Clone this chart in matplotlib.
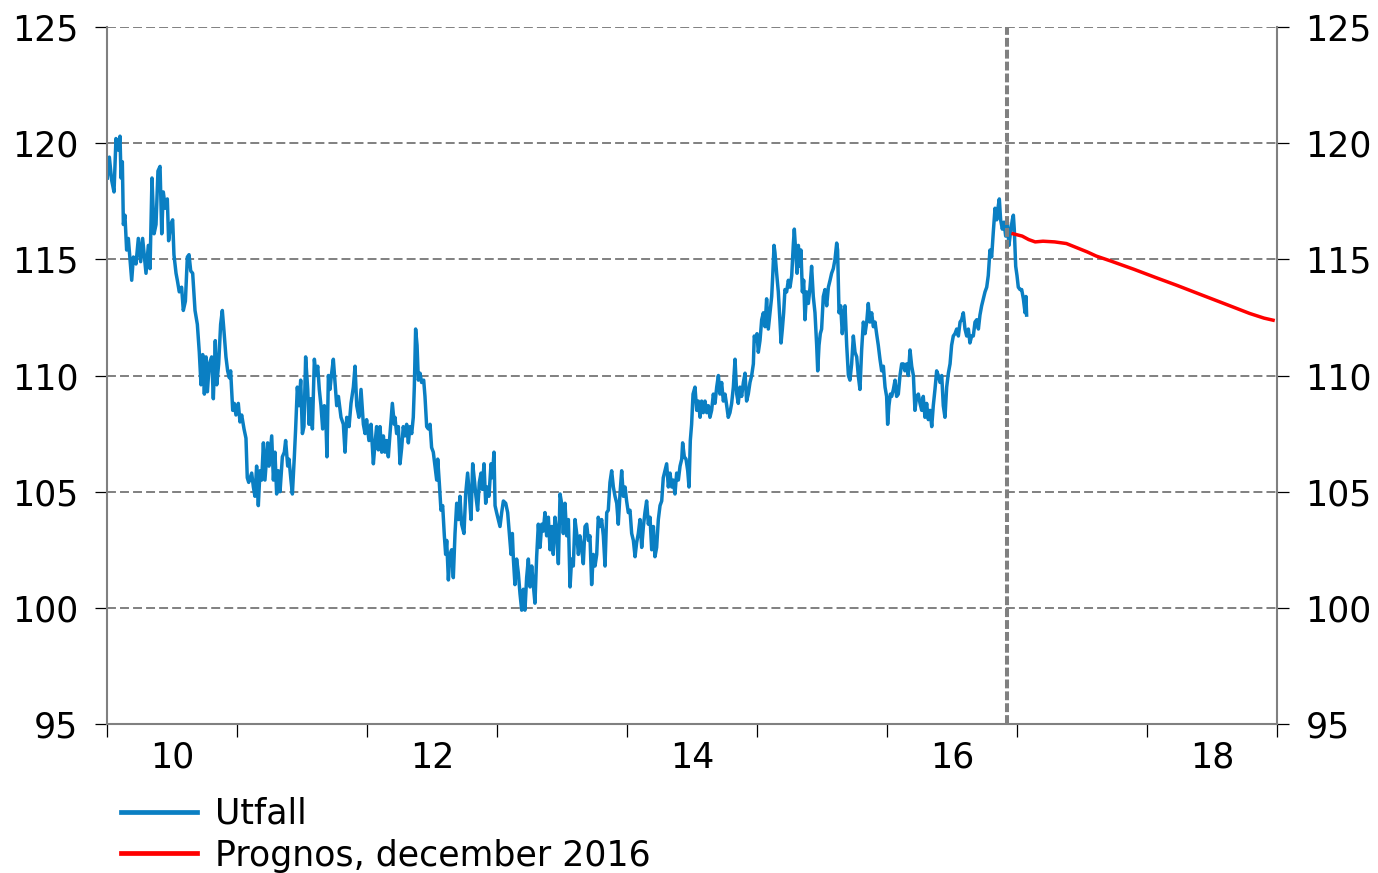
import numpy as np
import matplotlib.pyplot as plt

# -----------------------------
# DATA
# -----------------------------
utfall_year = [
    2010.003, 2010.018, 2010.036, 2010.054, 2010.069, 2010.087, 2010.100, 2010.108, 2010.118, 2010.126,
    2010.138, 2010.151, 2010.164, 2010.190, 2010.203, 2010.223, 2010.241, 2010.259, 2010.274, 2010.300,
    2010.318, 2010.331, 2010.346, 2010.362, 2010.377, 2010.392, 2010.408, 2010.421, 2010.433, 2010.449,
    2010.464, 2010.474, 2010.490, 2010.505, 2010.515, 2010.531, 2010.541, 2010.556, 2010.574, 2010.587,
    2010.603, 2010.618, 2010.631, 2010.644, 2010.659, 2010.677, 2010.695, 2010.710, 2010.723, 2010.736,
    2010.749, 2010.762, 2010.772, 2010.787, 2010.805, 2010.818, 2010.833, 2010.844, 2010.859, 2010.874,
    2010.887, 2010.900, 2010.915, 2010.928, 2010.941, 2010.951, 2010.967, 2010.979, 2010.992, 2011.010,
    2011.023, 2011.036, 2011.054, 2011.069, 2011.079, 2011.090,
    2011.113, 2011.126, 2011.138, 2011.151, 2011.164, 2011.177, 2011.190, 2011.203, 2011.215, 2011.236,
    2011.246, 2011.267, 2011.280, 2011.292, 2011.305, 2011.318, 2011.331, 2011.349, 2011.364, 2011.374,
    2011.390, 2011.400, 2011.415, 2011.426, 2011.441, 2011.451, 2011.464, 2011.477, 2011.490, 2011.503,
    2011.515, 2011.528, 2011.544, 2011.554, 2011.567, 2011.580, 2011.595, 2011.608, 2011.621, 2011.633,
    2011.646, 2011.659, 2011.672, 2011.685, 2011.692, 2011.703, 2011.715, 2011.728, 2011.741, 2011.754,
    2011.767, 2011.780, 2011.800, 2011.818, 2011.831, 2011.844, 2011.862, 2011.877, 2011.895, 2011.908,
    2011.921, 2011.938, 2011.954, 2011.972, 2011.985, 2011.997, 2012.015, 2012.031, 2012.049, 2012.062,
    2012.074, 2012.087, 2012.100, 2012.113, 2012.126, 2012.138, 2012.151, 2012.164, 2012.177, 2012.195,
    2012.210,
    2012.215, 2012.228, 2012.241, 2012.254, 2012.267, 2012.279, 2012.292, 2012.305, 2012.318, 2012.331,
    2012.344, 2012.356, 2012.364, 2012.374, 2012.385, 2012.395, 2012.408, 2012.420, 2012.436, 2012.446,
    2012.459, 2012.472, 2012.485, 2012.497, 2012.510, 2012.523, 2012.536, 2012.544, 2012.556, 2012.569,
    2012.582, 2012.595, 2012.605, 2012.613, 2012.626, 2012.638, 2012.651, 2012.664, 2012.677, 2012.690,
    2012.703, 2012.715, 2012.728, 2012.746, 2012.759, 2012.774, 2012.787, 2012.800, 2012.813, 2012.826,
    2012.838, 2012.851, 2012.864, 2012.877, 2012.887, 2012.900, 2012.913, 2012.926, 2012.938, 2012.954,
    2012.964, 2012.977, 2012.985, 2012.997, 2013.010, 2013.023, 2013.036, 2013.049, 2013.067, 2013.082,
    2013.095, 2013.108, 2013.118, 2013.126, 2013.138, 2013.151, 2013.164, 2013.177, 2013.190, 2013.203,
    2013.215, 2013.228, 2013.241, 2013.254, 2013.267, 2013.279, 2013.292, 2013.305, 2013.318, 2013.331,
    2013.344, 2013.356,
    2013.369, 2013.382, 2013.395, 2013.408, 2013.421, 2013.433, 2013.446, 2013.459, 2013.472, 2013.485,
    2013.497, 2013.510, 2013.523, 2013.536, 2013.549, 2013.562, 2013.574, 2013.587, 2013.600, 2013.613,
    2013.626, 2013.638, 2013.651, 2013.664, 2013.677, 2013.690, 2013.703, 2013.715, 2013.728, 2013.741,
    2013.754, 2013.767, 2013.779, 2013.792, 2013.805, 2013.818, 2013.831, 2013.844, 2013.856, 2013.869,
    2013.882, 2013.895, 2013.908, 2013.921, 2013.933, 2013.946, 2013.959, 2013.972, 2013.985, 2013.997,
    2014.010, 2014.023, 2014.036, 2014.049, 2014.062, 2014.074, 2014.087, 2014.100, 2014.113, 2014.126,
    2014.138, 2014.151, 2014.164, 2014.177, 2014.190, 2014.203, 2014.215, 2014.228, 2014.241, 2014.254,
    2014.267, 2014.279, 2014.292, 2014.305, 2014.318, 2014.331, 2014.344, 2014.356, 2014.369, 2014.382,
    2014.395, 2014.408, 2014.421, 2014.428, 2014.441, 2014.454, 2014.467, 2014.477, 2014.487, 2014.497,
    2014.508, 2014.518,
    2014.523, 2014.536, 2014.549, 2014.562, 2014.574, 2014.587, 2014.600, 2014.613, 2014.626, 2014.638,
    2014.651, 2014.664, 2014.677, 2014.690, 2014.703, 2014.715, 2014.728, 2014.741, 2014.754, 2014.767,
    2014.779, 2014.792, 2014.805, 2014.818, 2014.831, 2014.844, 2014.856, 2014.869, 2014.882, 2014.895,
    2014.908, 2014.920, 2014.933, 2014.946, 2014.959, 2014.972, 2014.979, 2014.990, 2015.000, 2015.010,
    2015.023, 2015.036, 2015.049, 2015.062, 2015.074, 2015.087, 2015.100, 2015.113, 2015.121, 2015.131,
    2015.138, 2015.151, 2015.164, 2015.177, 2015.185, 2015.195, 2015.205, 2015.215, 2015.228, 2015.241,
    2015.254, 2015.267, 2015.279, 2015.287, 2015.297, 2015.308, 2015.318, 2015.331, 2015.338, 2015.349,
    2015.359, 2015.369, 2015.382, 2015.395, 2015.408, 2015.420, 2015.433, 2015.446, 2015.459, 2015.467,
    2015.477, 2015.487, 2015.497, 2015.510, 2015.523, 2015.536, 2015.549, 2015.562, 2015.574, 2015.587,
    2015.600, 2015.613, 2015.620, 2015.631, 2015.644, 2015.656, 2015.669,
    2015.677, 2015.690, 2015.703, 2015.715, 2015.728, 2015.741, 2015.754, 2015.767, 2015.779, 2015.792,
    2015.805, 2015.818, 2015.831, 2015.844, 2015.856, 2015.869, 2015.882, 2015.895, 2015.908, 2015.920,
    2015.933, 2015.946, 2015.959, 2015.972, 2015.985, 2015.997, 2016.005, 2016.015, 2016.026, 2016.036,
    2016.049, 2016.062, 2016.074, 2016.087, 2016.100, 2016.113, 2016.126, 2016.138, 2016.151, 2016.164,
    2016.177, 2016.190, 2016.203, 2016.215, 2016.228, 2016.241, 2016.254, 2016.267, 2016.279, 2016.292,
    2016.305, 2016.318, 2016.331, 2016.344, 2016.356, 2016.369, 2016.382, 2016.395, 2016.408, 2016.421,
    2016.433, 2016.446, 2016.459, 2016.472, 2016.485, 2016.497, 2016.510, 2016.523, 2016.536, 2016.549,
    2016.562, 2016.574, 2016.587, 2016.600, 2016.613, 2016.626, 2016.638, 2016.651, 2016.664, 2016.677,
    2016.690, 2016.703, 2016.715, 2016.728, 2016.741, 2016.754, 2016.767, 2016.779, 2016.792, 2016.805,
    2016.818, 2016.831, 2016.844, 2016.856, 2016.864, 2016.874, 2016.887, 2016.900, 2016.913, 2016.926,
    2016.938, 2016.951, 2016.964, 2016.972, 2016.979, 2016.990, 2017.000, 2017.010, 2017.023, 2017.036,
    2017.049, 2017.062, 2017.069, 2017.074,
]
utfall_value = [
    118.5, 119.4, 118.4, 117.9, 120.2, 119.7, 120.3, 118.5, 119.2, 116.5,
    116.9, 115.4, 115.9, 114.1, 115.1, 114.8, 115.9, 114.9, 115.9, 114.4,
    115.6, 114.6, 118.5, 116.1, 116.5, 118.8, 119.0, 116.1, 117.9, 117.2,
    117.6, 115.8, 116.5, 116.7, 115.2, 114.4, 114.1, 113.6, 113.8, 112.8,
    113.2, 115.1, 115.2, 114.5, 114.4, 112.8, 112.2, 111.0, 109.6, 110.9,
    109.2, 110.8, 109.3, 110.5, 110.8, 109.0, 111.5, 109.6, 110.5, 112.2,
    112.8, 111.9, 110.8, 110.2, 109.9, 110.2, 108.5, 108.8, 108.3, 108.8,
    108.0, 108.3, 107.7, 107.3, 105.6, 105.4,
    105.8, 105.2, 104.8, 106.1, 104.4, 105.9, 105.5, 107.1, 105.5, 107.1,
    106.1, 107.4, 105.5, 106.7, 104.9, 105.9, 105.0, 106.5, 106.7, 107.2,
    106.1, 106.4, 105.5, 104.9, 106.5, 107.7, 109.5, 108.7, 109.8, 107.5,
    107.8, 110.8, 109.4, 107.9, 109.0, 107.7, 110.7, 110.0, 110.4, 109.4,
    108.7, 107.7, 108.7, 107.8, 106.5, 110.0, 109.4, 110.1, 110.7, 109.7,
    108.7, 109.1, 108.2, 107.9, 106.7, 108.2, 107.8, 108.8, 109.5, 110.4,
    108.7, 108.2, 109.4, 107.9, 107.5, 108.1, 107.2, 107.9, 106.2, 107.1,
    107.8, 106.8, 107.8, 106.7, 107.4, 106.7, 107.2, 106.5, 107.5, 108.8,
    107.9,
    108.2, 107.5, 107.8, 106.2, 106.9, 107.8, 107.4, 107.9, 107.1, 107.8,
    107.5, 108.2, 109.5, 112.0, 111.3, 109.8, 110.1, 109.7, 109.8, 109.1,
    107.8, 107.7, 107.9, 106.9, 106.7, 106.1, 105.5, 106.4, 105.4, 104.2,
    104.4, 103.1, 102.3, 102.9, 101.2, 102.3, 102.5, 101.3, 103.2, 104.5,
    103.8, 104.8, 103.6, 103.2, 104.9, 105.8, 104.9, 103.8, 106.2, 105.5,
    104.8, 104.2, 105.4, 105.8, 105.1, 106.2, 104.5, 105.2, 104.8, 106.2,
    105.6, 106.7, 104.4, 104.1, 103.8, 103.5, 104.1, 104.6, 104.5, 104.1,
    103.2, 102.3, 103.2, 102.1, 101.0, 102.1, 101.5, 100.6, 99.9, 100.8,
    99.9, 101.3, 102.1, 100.9, 101.8, 101.0, 100.2, 102.2, 103.6, 102.6,
    103.6, 103.3,
    104.1, 103.1, 103.9, 102.5, 103.5, 102.3, 103.9, 103.3, 101.9, 104.9,
    104.5, 103.2, 104.5, 103.1, 103.8, 100.9, 102.1, 101.8, 103.8, 103.2,
    102.3, 103.1, 102.6, 101.9, 103.5, 103.6, 102.9, 103.1, 101.0, 102.3,
    101.8, 102.3, 103.9, 103.5, 103.8, 103.1, 101.8, 104.1, 104.2, 105.4,
    105.9, 105.2, 104.8, 104.5, 103.6, 104.9, 105.9, 104.8, 105.2, 104.6,
    104.1, 104.2, 103.2, 102.9, 102.2, 102.8, 103.2, 103.8, 102.6, 103.5,
    104.1, 104.6, 103.6, 103.9, 102.5, 103.5, 102.2, 102.6, 103.8, 104.4,
    104.6, 105.6, 105.9, 106.2, 105.2, 105.8, 105.2, 105.5, 104.9, 105.8,
    105.5, 106.1, 106.4, 107.1, 106.5, 106.4, 105.9, 105.2, 107.2, 107.9,
    109.2, 109.4,
    109.5, 108.5, 108.9, 108.2, 108.9, 108.4, 108.9, 108.4, 108.7, 108.2,
    108.5, 109.2, 108.8, 109.5, 110.0, 109.2, 109.7, 108.9, 109.2, 108.7,
    108.2, 108.4, 108.8, 109.5, 110.7, 109.2, 108.8, 109.5, 109.1, 109.7,
    110.1, 108.9, 109.2, 109.7, 110.0, 110.5, 111.7, 111.5, 111.8, 111.0,
    111.5, 112.4, 112.7, 112.1, 113.3, 112.0, 112.7, 113.4, 114.3, 115.6,
    115.3, 114.4, 113.6, 112.3, 111.4, 112.0, 112.7, 113.7, 113.6, 114.1,
    113.8, 114.3, 115.6, 116.3, 115.4, 114.4, 115.6, 114.7, 115.4, 113.6,
    114.1, 112.4, 113.6, 113.1, 113.8, 114.7, 113.4, 112.7, 111.3, 110.2,
    111.3, 111.8, 112.0, 113.4, 113.7, 113.0, 113.8, 114.1, 114.4, 114.6,
    115.0, 115.7, 115.4, 112.7, 113.0, 111.8, 112.7,
    113.0, 111.3, 110.0, 109.8, 110.5, 111.7, 111.0, 110.8, 110.0, 109.4,
    111.1, 112.3, 111.8, 112.3, 113.1, 112.3, 112.7, 112.1, 112.3, 111.8,
    111.3, 110.7, 110.2, 110.4, 109.5, 109.1, 107.9, 108.7, 109.2, 109.1,
    109.4, 109.8, 109.1, 109.2, 110.0, 110.5, 110.5, 110.2, 110.5, 110.0,
    111.1, 110.4, 110.0, 108.5, 109.1, 109.2, 108.8, 108.5, 109.1, 108.2,
    108.8, 108.1, 108.5, 107.8, 108.7, 109.4, 110.2, 110.0, 109.7, 110.0,
    108.7, 108.2, 109.5, 110.1, 110.5, 111.3, 111.7, 111.8, 112.0, 111.7,
    112.3, 112.4, 112.7, 112.0, 111.7, 112.0, 111.4, 111.7, 111.7, 112.3,
    112.4, 112.0, 112.6, 113.0, 113.3, 113.6, 113.8, 114.3, 115.4, 115.1,
    116.2, 117.2, 116.7, 117.3, 117.6, 116.7, 116.3, 116.6, 116.0, 116.6,
    115.6, 116.2, 116.7, 116.9, 116.3, 114.7, 114.3, 113.8, 113.7, 113.7,
    113.3, 112.7, 113.4, 112.6,
]

prognos_year = [2016.97, 2017.04, 2017.09, 2017.14, 2017.20, 2017.29, 2017.38, 2017.46, 2017.54, 2017.61,
                2017.72, 2017.90, 2018.07, 2018.23, 2018.41, 2018.61, 2018.79, 2018.90, 2018.97]
prognos_value = [116.10, 116.00, 115.85, 115.75, 115.78, 115.75, 115.68, 115.50, 115.32, 115.14,
                 114.93, 114.57, 114.21, 113.88, 113.49, 113.06, 112.67, 112.47, 112.38]

forecast_date = 2016.92
label_years = [2010, 2012, 2014, 2016, 2018]
year_labels = ["10", "12", "14", "16", "18"]
y_ticks = [95, 100, 105, 110, 115, 120, 125]

# -----------------------------
# PLOT
# -----------------------------
plt.rcParams["font.family"] = "DejaVu Sans"
grey = "#808080"

fig = plt.figure(figsize=(13.78, 8.73), dpi=100)
ax = fig.add_axes([107 / 1378, 149 / 873, 1170 / 1378, 697 / 873])

ax.plot(utfall_year, utfall_value, color="#0a7fc3", lw=2.5, label="Utfall")
ax.plot(prognos_year, prognos_value, color="#ff0000", lw=2.5, label="Prognos, december 2016")
ax.axvline(forecast_date, color=grey, lw=2.9, ls=(0, (2.2, 0.75)))

ax.set_xlim(2010, 2019)
ax.set_ylim(95, 125)

# y axis on both sides
ax.set_yticks(y_ticks)
ax.yaxis.grid(True, color=grey, lw=1.4, ls=(0, (4.6, 2.1)))
ax.tick_params(axis="y", which="both", left=True, right=True, labelleft=True, labelright=True,
               direction="out", length=8.6, width=0.9, color="black", pad=12, labelsize=25)

# x axis: ticks at year boundaries, labels mid-year
ax.set_xticks(range(2010, 2020))
ax.set_xticklabels([])
ax.set_xticks([y + 0.5 for y in label_years], minor=True)
ax.set_xticklabels(year_labels, minor=True)
ax.tick_params(axis="x", which="major", direction="out", length=9.4, width=0.9, color="black")
ax.tick_params(axis="x", which="minor", length=0, pad=12, labelsize=25)

ax.spines["top"].set_visible(False)
for s in ["left", "right", "bottom"]:
    ax.spines[s].set_color(grey)
    ax.spines[s].set_linewidth(1.5)

leg = fig.legend(loc="upper left", bbox_to_anchor=(121 / 1378, 1 - 797 / 873), frameon=False,
                 fontsize=25, handlelength=2.2, handletextpad=0.5, labelspacing=0.22,
                 borderpad=0, borderaxespad=0)
for line in leg.get_lines():
    line.set_linewidth(3.4)

fig.savefig("out.png", dpi=100)
